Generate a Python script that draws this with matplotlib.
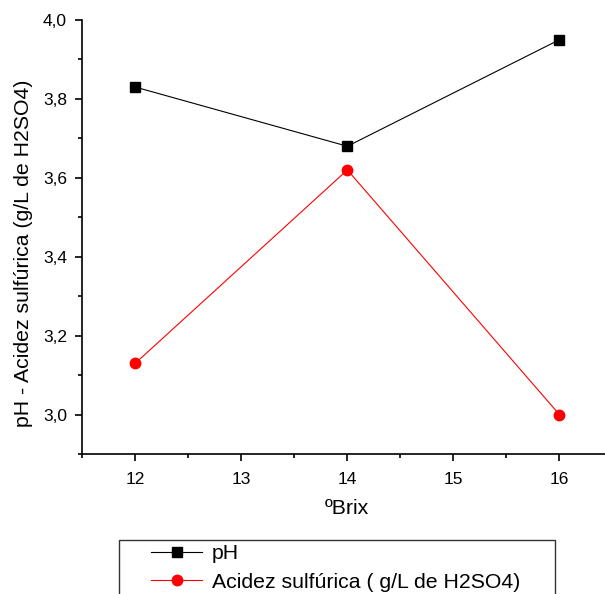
import numpy as np
import matplotlib
matplotlib.use("Agg")
import matplotlib.pyplot as plt
from matplotlib.ticker import MultipleLocator, FuncFormatter
from matplotlib.patches import Rectangle

plt.rcParams['font.family'] = ['Liberation Sans', 'DejaVu Sans']

brix = [12, 14, 16]
ph = [3.83, 3.68, 3.95]
acidez = [3.13, 3.62, 3.00]

W, H = 605, 594
fig = plt.figure(figsize=(W / 100, H / 100), dpi=100)
ax = fig.add_axes([82.3 / W, 1 - 454 / H, 1 - 82.3 / W, (454 - 20) / H])

ax.plot(brix, ph, color='black', lw=0.8, marker='s', ms=6.5, label='pH')
ax.plot(brix, acidez, color='red', lw=0.8, marker='o', ms=7.5, label='Acidez sulfúrica ( g/L de H2SO4)')

ax.set_xlim(11.5, 16.43)
ax.set_ylim(2.9, 4.0)
ax.xaxis.set_major_locator(MultipleLocator(1))
ax.xaxis.set_minor_locator(MultipleLocator(0.5))
ax.yaxis.set_major_locator(MultipleLocator(0.2))
ax.yaxis.set_minor_locator(MultipleLocator(0.1))
ax.yaxis.set_major_formatter(FuncFormatter(lambda v, p: ('%.1f' % v).replace('.', ',')))

for s in ['top', 'right']:
    ax.spines[s].set_visible(False)
for s in ['left', 'bottom']:
    ax.spines[s].set_linewidth(1.2)

ax.tick_params(which='major', direction='out', length=5, width=1.2, labelsize=12.5)
ax.tick_params(which='minor', direction='out', length=3, width=1.2)
ax.tick_params(axis='x', which='major', pad=8)
ax.tick_params(axis='y', which='major', pad=6)

ax.set_xlabel('ºBrix', fontsize=15.3)
ax.xaxis.set_label_coords(0.506, -0.104)
ax.set_ylabel('pH - Acidez sulfúrica (g/L de H2SO4)', fontsize=15.3)
ax.yaxis.set_label_coords(-0.094, 0.463)

# legend box (cut by the bottom edge like the original)
fig.patches.append(Rectangle((119 / W, -0.05), (555 - 119) / W, 1 - 540 / H + 0.05,
                             transform=fig.transFigure, fill=False,
                             edgecolor='#333333', lw=1.0))
leg = fig.legend(loc='upper left', bbox_to_anchor=(151 / W, 1 - 544 / H),
                 fontsize=15.3, numpoints=1, handlelength=2.4, borderaxespad=0,
                 borderpad=0, frameon=False, labelspacing=0.45, handletextpad=0.45)

fig.savefig('out.png', dpi=100)
